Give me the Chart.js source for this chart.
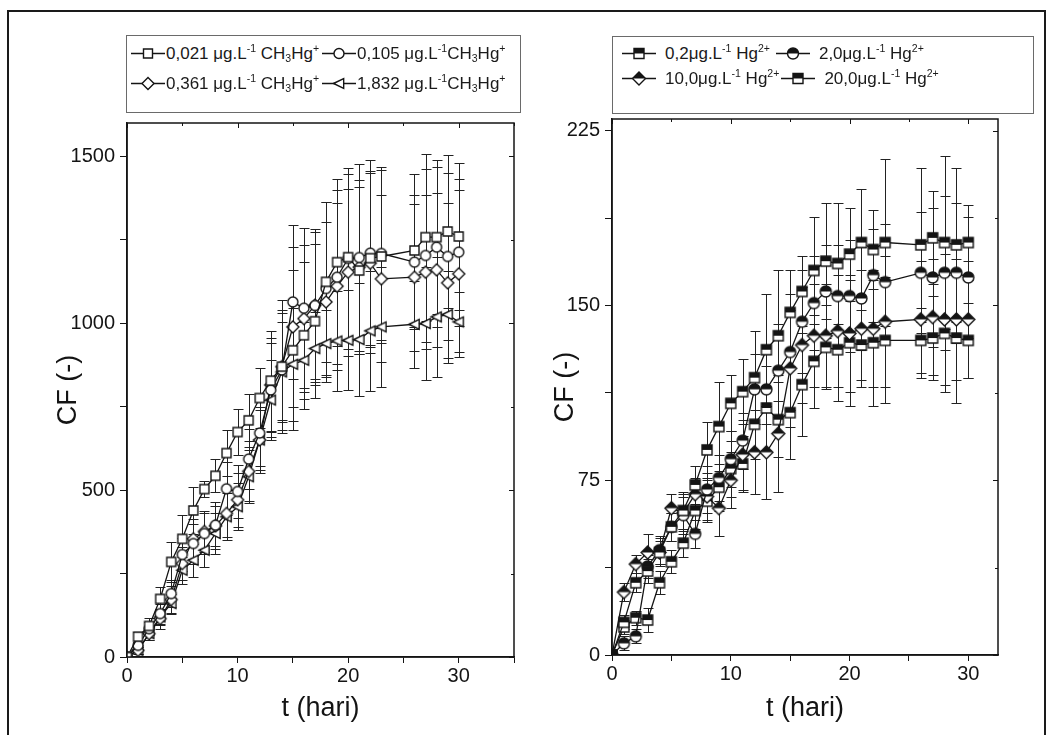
<!DOCTYPE html>
<html>
<head>
<meta charset="utf-8">
<script src="https://cdn.jsdelivr.net/npm/chart.js@4.4.1/dist/chart.umd.min.js"></script>
<style>
  body { margin: 0; background: #fff; font-family: "Liberation Sans", Arial, sans-serif; }
  #wrap { position: relative; width: 1056px; height: 735px; overflow: hidden; background: #fff; }
  #frame { position: absolute; left: 7px; top: 10px; width: 1035px; height: 760px; border: 2px solid #1a1a1a; }
  .box { position: absolute; top: 0; height: 735px; }
  .leg { position: absolute; border: 1px solid #6a6a6a; background: #fff; }
  .row { position: absolute; white-space: nowrap; color: #1a1a1a; line-height: 1; display: flex; align-items: center; transform: translateY(-50%); }
  .ent { display: flex; align-items: center; }
  .ent sup, .ent sub { font-size: 62%; position: relative; vertical-align: baseline; }
  .ent sup { top: -0.6em; }
  .ent sub { top: 0.35em; }
  .ent canvas { display: block; }
</style>
</head>
<body>
<div id="wrap">
  <div id="frame"></div>
  <div class="box" style="left:0;width:540px"><canvas id="left"></canvas></div>
  <div class="box" style="left:540px;width:516px"><canvas id="right"></canvas></div>

  <div class="leg" style="left:126px;top:35px;width:393px;height:76px"></div>
  <div class="row" id="lrow1" style="left:131px;top:53px;font-size:17px"></div>
  <div class="row" id="lrow2" style="left:131px;top:83px;font-size:17px"></div>

  <div class="leg" style="left:612px;top:36px;width:420px;height:76px"></div>
  <div class="row" id="rrow1" style="left:622px;top:53px;font-size:17px"></div>
  <div class="row" id="rrow2" style="left:622px;top:78px;font-size:17px"></div>
</div>

<script>
// sampling days (hari)
const days = [0, 1, 2, 3, 4, 5, 6, 7, 8, 9, 10, 11, 12, 13, 14, 15, 16, 17, 18, 19, 20, 21, 22, 23, 26, 27, 28, 29, 30];

// left panel: CH3Hg+ exposure, CF values and error (+/-)
const cf021 = [0, 61, 93, 174, 285, 354, 439, 503, 543, 611, 674, 709, 776, 828, 870, 919, 964, 1006, 1124, 1183, 1198, 1158, 1195, 1200, 1218, 1258, 1258, 1275, 1260];
const cf021Err = [0, 15, 25, 35, 60, 70, 70, 25, 50, 70, 70, 80, 90, 150, 160, 240, 220, 230, 240, 250, 250, 250, 260, 260, 230, 250, 230, 230, 220];
const cf105 = [0, 35, 85, 130, 190, 307, 340, 370, 395, 504, 496, 593, 671, 800, 860, 1064, 1045, 1053, 1104, 1138, 1194, 1197, 1210, 1209, 1183, 1203, 1228, 1200, 1213];
const cf105Err = [0, 10, 20, 30, 40, 50, 60, 60, 70, 80, 80, 90, 100, 140, 180, 230, 240, 230, 260, 260, 270, 280, 280, 260, 200, 260, 240, 250, 220];
const cf361 = [0, 20, 70, 115, 172, 280, 354, 376, 393, 430, 471, 556, 650, 815, 870, 989, 1014, 1054, 1064, 1111, 1153, 1168, 1180, 1133, 1138, 1153, 1160, 1121, 1148];
const cf361Err = [0, 10, 20, 30, 40, 50, 60, 60, 60, 70, 80, 90, 100, 140, 200, 240, 220, 220, 240, 250, 250, 260, 270, 250, 220, 230, 230, 240, 250];
const cf1832 = [0, 20, 70, 120, 160, 260, 290, 320, 370, 420, 450, 540, 650, 770, 854, 877, 889, 924, 939, 947, 949, 951, 977, 989, 997, 999, 1019, 1026, 1004];
const cf1832Err = [0, 10, 20, 25, 30, 40, 50, 50, 60, 70, 70, 80, 90, 120, 150, 170, 116, 109, 100, 150, 150, 170, 180, 180, 130, 170, 180, 130, 90];

// right panel: Hg2+ exposure
const hg02 = [0, 14, 31, 36, 44, 55, 62, 73, 88, 98, 108, 113, 119, 131, 137, 147, 156, 165, 169, 168, 172, 177, 174, 177, 176, 179, 177, 176, 177];
const hg02Err = [0, 3, 4, 5, 5, 6, 8, 8, 12, 19, 12, 14, 20, 24, 28, 18, 15, 23, 25, 26, 20, 23, 17, 36, 33, 20, 37, 33, 16];
const hg20 = [0, 5, 8, 38, 45, 55, 60, 52, 71, 76, 84, 92, 114, 114, 122, 130, 143, 151, 156, 154, 154, 153, 163, 160, 164, 162, 164, 164, 162];
const hg20Err = [0, 3, 3, 5, 6, 6, 8, 6, 10, 10, 12, 12, 15, 15, 20, 25, 22, 20, 20, 22, 24, 22, 20, 25, 26, 30, 33, 30, 26];
const hg100 = [0, 27, 39, 44, 44, 63, 61, 69, 68, 63, 75, 86, 87, 87, 95, 123, 133, 137, 137, 139, 138, 140, 140, 143, 144, 145, 144, 144, 144];
const hg100Err = [0, 4, 4, 8, 6, 6, 8, 7, 10, 12, 12, 15, 18, 20, 25, 25, 25, 22, 22, 24, 25, 25, 25, 28, 25, 25, 28, 26, 25];
const hg200 = [0, 12, 16, 15, 31, 40, 48, 62, 66, 72, 80, 82, 99, 106, 101, 104, 116, 126, 132, 131, 134, 133, 134, 135, 135, 136, 138, 136, 135];
const hg200Err = [0, 3, 3, 5, 5, 5, 6, 8, 9, 10, 12, 12, 15, 18, 16, 20, 22, 20, 18, 22, 27, 15, 27, 27, 14, 18, 25, 28, 16];

const xLabels = [0, 10, 20, 30];
const yLabelsL = [0, 500, 1000, 1500];
const yLabelsR = [0, 75, 150, 225];

const INK = "#141414";

function shapePath(ctx, shape, cx, cy, r) {
  ctx.beginPath();
  if (shape === "square") {
    ctx.rect(cx - r, cy - r, 2 * r, 2 * r);
  } else if (shape === "circle") {
    ctx.arc(cx, cy, r, 0, Math.PI * 2);
  } else if (shape === "diamond") {
    ctx.moveTo(cx, cy - r);
    ctx.lineTo(cx + r, cy);
    ctx.lineTo(cx, cy + r);
    ctx.lineTo(cx - r, cy);
    ctx.closePath();
  } else if (shape === "triLeft") {
    ctx.moveTo(cx - r, cy);
    ctx.lineTo(cx + r * 0.85, cy - r * 0.9);
    ctx.lineTo(cx + r * 0.85, cy + r * 0.9);
    ctx.closePath();
  }
}

function drawMarker(ctx, shape, cx, cy, r, half) {
  shapePath(ctx, shape, cx, cy, r);
  ctx.fillStyle = "#fff";
  ctx.fill();
  if (half) {
    ctx.save();
    ctx.clip();
    ctx.fillStyle = INK;
    ctx.fillRect(cx - r - 2, cy - r - 2, 2 * r + 4, r + 2);
    ctx.restore();
    shapePath(ctx, shape, cx, cy, r);
  }
  ctx.lineWidth = 1.4;
  ctx.strokeStyle = INK;
  ctx.stroke();
}

function makeMarker(shape, r, half) {
  const c = document.createElement("canvas");
  const s = Math.ceil(r * 2 + 4);
  c.width = s;
  c.height = s;
  drawMarker(c.getContext("2d"), shape, s / 2, s / 2, r, half);
  return c;
}

function legendSymbol(shape, r, half, w) {
  const c = document.createElement("canvas");
  c.width = w;
  c.height = 18;
  const ctx = c.getContext("2d");
  ctx.strokeStyle = INK;
  ctx.lineWidth = 1.3;
  ctx.beginPath();
  ctx.moveTo(0, 9.5);
  ctx.lineTo(w, 9.5);
  ctx.stroke();
  drawMarker(ctx, shape, w / 2, 9.5, r, half);
  return c;
}

function addEntry(rowId, shape, r, half, w, gap, html) {
  const ent = document.createElement("div");
  ent.className = "ent";
  const sym = legendSymbol(shape, r, half, w);
  sym.style.marginRight = gap + "px";
  ent.appendChild(sym);
  const span = document.createElement("span");
  span.innerHTML = html;
  ent.appendChild(span);
  document.getElementById(rowId).appendChild(ent);
  return ent;
}

addEntry("lrow1", "square", 4.5, false, 34, 1, "0,021 &mu;g.L<sup>-1</sup> CH<sub>3</sub>Hg<sup>+</sup>");
addEntry("lrow1", "circle", 5, false, 34, 1, "0,105 &mu;g.L<sup>-1</sup>CH<sub>3</sub>Hg<sup>+</sup>").style.marginLeft = "3px";
addEntry("lrow2", "diamond", 6, false, 34, 1, "0,361 &mu;g.L<sup>-1</sup> CH<sub>3</sub>Hg<sup>+</sup>");
addEntry("lrow2", "triLeft", 5.5, false, 34, 1, "1,832 &mu;g.L<sup>-1</sup>CH<sub>3</sub>Hg<sup>+</sup>").style.marginLeft = "3px";
addEntry("rrow1", "square", 5, true, 34, 9, "0,2&mu;g.L<sup>-1</sup> Hg<sup>2+</sup>");
addEntry("rrow1", "circle", 5.5, true, 34, 9, "2,0&mu;g.L<sup>-1</sup> Hg<sup>2+</sup>").style.marginLeft = "6px";
addEntry("rrow2", "diamond", 6.5, true, 34, 9, "10,0&mu;g.L<sup>-1</sup> Hg<sup>2+</sup>");
addEntry("rrow2", "square", 5, true, 34, 9, "20,0&mu;g.L<sup>-1</sup> Hg<sup>2+</sup>").style.marginLeft = "2px";

// error bars drawn behind the markers
const errorBars = {
  id: "errorBars",
  beforeDatasetsDraw(chart) {
    const ctx = chart.ctx;
    const xs = chart.scales.x;
    const ys = chart.scales.y;
    ctx.save();
    ctx.strokeStyle = "#222";
    ctx.lineWidth = 1;
    chart.data.datasets.forEach((ds) => {
      ds.data.forEach((p, i) => {
        const e = ds.errors[i];
        if (!e) return;
        const px = Math.round(xs.getPixelForValue(p.x)) + 0.5;
        const y1 = Math.round(ys.getPixelForValue(p.y + e)) + 0.5;
        const y2 = Math.round(ys.getPixelForValue(p.y - e)) + 0.5;
        ctx.beginPath();
        ctx.moveTo(px, y1);
        ctx.lineTo(px, y2);
        ctx.moveTo(px - 5, y1);
        ctx.lineTo(px + 5, y1);
        ctx.moveTo(px - 5, y2);
        ctx.lineTo(px + 5, y2);
        ctx.stroke();
      });
    });
    ctx.restore();
  },
};

// closed frame with inward ticks on top and right
const boxFrame = {
  id: "boxFrame",
  afterDraw(chart) {
    const ctx = chart.ctx;
    const a = chart.chartArea;
    ctx.save();
    ctx.strokeStyle = INK;
    ctx.lineWidth = 1.5;
    ctx.strokeRect(a.left, a.top, a.right - a.left, a.bottom - a.top);
    ctx.lineWidth = 1;
    ctx.beginPath();
    chart.scales.x.ticks.forEach((t) => {
      const px = Math.round(chart.scales.x.getPixelForValue(t.value)) + 0.5;
      ctx.moveTo(px, a.top);
      ctx.lineTo(px, a.top + (t.label !== "" ? 5 : 3));
    });
    chart.scales.y.ticks.forEach((t) => {
      const py = Math.round(chart.scales.y.getPixelForValue(t.value)) + 0.5;
      ctx.moveTo(a.right, py);
      ctx.lineTo(a.right - (t.label !== "" ? 5 : 3), py);
    });
    ctx.stroke();
    ctx.restore();
  },
};

function series(values, errors, marker) {
  return {
    data: days.map((d, i) => ({ x: d, y: values[i] })),
    errors: errors,
    borderColor: INK,
    borderWidth: 1.3,
    pointStyle: marker,
    pointRadius: 6,
    fill: false,
    tension: 0,
  };
}

function makeChart(id, datasets, cfg) {
  const tickFont = { family: "Liberation Sans", size: 20 };
  const titleFont = { family: "Liberation Sans", size: 27 };
  return new Chart(document.getElementById(id), {
    type: "line",
    data: { datasets: datasets },
    options: {
      responsive: true,
      maintainAspectRatio: false,
      animation: false,
      events: [],
      layout: { padding: { left: 0, right: cfg.padRight, top: cfg.padTop, bottom: 0 } },
      plugins: { legend: { display: false }, tooltip: { enabled: false } },
      scales: {
        x: {
          type: "linear",
          min: 0,
          max: cfg.xMax,
          afterFit: (s) => { s.height = cfg.xHeight; },
          border: { display: true, color: INK, width: 1.5 },
          grid: { display: true, drawOnChartArea: false, drawTicks: true, tickLength: 6, color: INK },
          ticks: {
            stepSize: 5,
            autoSkip: false,
            maxRotation: 0,
            includeBounds: false,
            padding: 1,
            color: INK,
            font: tickFont,
            callback: (v) => (xLabels.includes(v) ? String(v) : ""),
          },
          title: { display: true, text: "t (hari)", color: INK, font: titleFont, padding: { top: 0, bottom: 10 } },
        },
        y: {
          type: "linear",
          min: 0,
          max: cfg.yMax,
          afterFit: (s) => { s.width = cfg.yWidth; },
          border: { display: true, color: INK, width: 1.5 },
          grid: { display: true, drawOnChartArea: false, drawTicks: true, tickLength: 7, color: INK },
          ticks: {
            stepSize: cfg.yStep,
            autoSkip: false,
            includeBounds: false,
            padding: 5,
            color: INK,
            font: tickFont,
            callback: (v) => (cfg.yLabels.includes(v) ? String(v) : ""),
          },
          title: { display: true, text: "CF (-)", color: INK, font: titleFont, padding: { top: cfg.yTitlePad, bottom: 0 } },
        },
      },
    },
    plugins: [errorBars, boxFrame],
  });
}

makeChart("left", [
  series(cf021, cf021Err, makeMarker("square", 4.5, false)),
  series(cf105, cf105Err, makeMarker("circle", 5, false)),
  series(cf361, cf361Err, makeMarker("diamond", 6, false)),
  series(cf1832, cf1832Err, makeMarker("triLeft", 5.5, false)),
], { xMax: 35, yMax: 1600, yStep: 250, yLabels: yLabelsL, yWidth: 127, xHeight: 78, padRight: 26, padTop: 123, yTitlePad: 52 });

makeChart("right", [
  series(hg02, hg02Err, makeMarker("square", 5, true)),
  series(hg20, hg20Err, makeMarker("circle", 5.5, true)),
  series(hg100, hg100Err, makeMarker("diamond", 6.5, true)),
  series(hg200, hg200Err, makeMarker("square", 5, true)),
], { xMax: 32.5, yMax: 230, yStep: 37.5, yLabels: yLabelsR, yWidth: 72, xHeight: 80, padRight: 58, padTop: 119, yTitlePad: 9 });
</script>
</body>
</html>
